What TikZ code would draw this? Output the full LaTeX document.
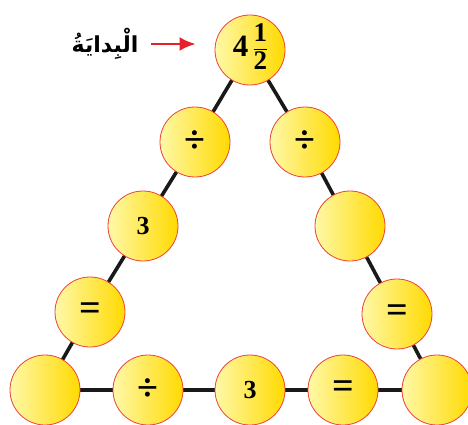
\documentclass[tikz,border=0pt]{standalone}
\usepackage{fontspec}
\setmainfont{Liberation Serif}
\newfontfamily\arabicfont[Script=Arabic]{DejaVu Sans}
\TeXXeTstate=1
\usetikzlibrary{arrows.meta}

\definecolor{ballL}{HTML}{FFF8A8}
\definecolor{ballM}{HTML}{FFEA00}
\definecolor{ballR}{HTML}{FFDA00}
\definecolor{ballrim}{HTML}{EE4038}
\definecolor{arrowred}{HTML}{E8202A}

\begin{document}
\begin{tikzpicture}[
        x=1pt, y=-1pt,
        ball/.style={circle, draw=ballrim, line width=0.8pt, minimum size=70pt, inner sep=0pt,
            left color=ballL, middle color=ballM, right color=ballR,
            font=\fontsize{26}{28}\selectfont\bfseries},
        op/.style={font=\fontsize{38}{40}\selectfont\bfseries},
        link/.style={draw=black!90, line width=3.6pt},
        startarrow/.style={draw=arrowred, line width=2.6pt, -{Latex[length=16pt, width=14pt]}}
    ]
    \useasboundingbox (0,0) rectangle (468,425);

    % Connecting lines first, circles drawn on top
    \path (250,50) coordinate (ptop)
          (195,142) coordinate (pl1)  (143,226) coordinate (pl2)  (90,312) coordinate (pl3)
          (305,142) coordinate (pr1)  (350,226) coordinate (pr2)  (397,314) coordinate (pr3)
          (45,390) coordinate (pbl)   (148,390) coordinate (pb1)  (250,390) coordinate (pb2)
          (343,390) coordinate (pb3)  (437,390) coordinate (pbr);
    \draw[link] (ptop) -- (pl1) -- (pl2) -- (pl3) -- (pbl);
    \draw[link] (ptop) -- (pr1) -- (pr2) -- (pr3) -- (pbr);
    \draw[link] (pbl) -- (pb1) -- (pb2) -- (pb3) -- (pbr);

    % Circles
    \node[ball, font=\fontsize{31}{32}\selectfont\bfseries] (top) at (ptop)
        {4\,{\fontsize{27}{28}\selectfont\begin{tabular}{@{}c@{}}1\\[-1pt]\hline\rule{0pt}{21pt}2\end{tabular}}};
    \node[ball, op] (l1) at (pl1) {÷};
    \node[ball] (l2) at (pl2) {3};
    \node[ball, op] (l3) at (pl3) {=};
    \node[ball, op] (r1) at (pr1) {÷};
    \node[ball] (r2) at (pr2) {};
    \node[ball, op] (r3) at (pr3) {=};
    \node[ball] (bl) at (pbl) {};
    \node[ball, op] (b1) at (pb1) {÷};
    \node[ball] (b2) at (pb2) {3};
    \node[ball, op] (b3) at (pb3) {=};
    \node[ball] (br) at (pbr) {};

    % Start label
    \node[font=\arabicfont\fontsize{22}{24}\selectfont\bfseries] (start) at (105,44) {\beginR الْبِدايَةُ\endR};
    \draw[startarrow, shorten <=9pt, shorten >=19pt] (start.east) -- (top.west |- start.east);
\end{tikzpicture}
\end{document}
